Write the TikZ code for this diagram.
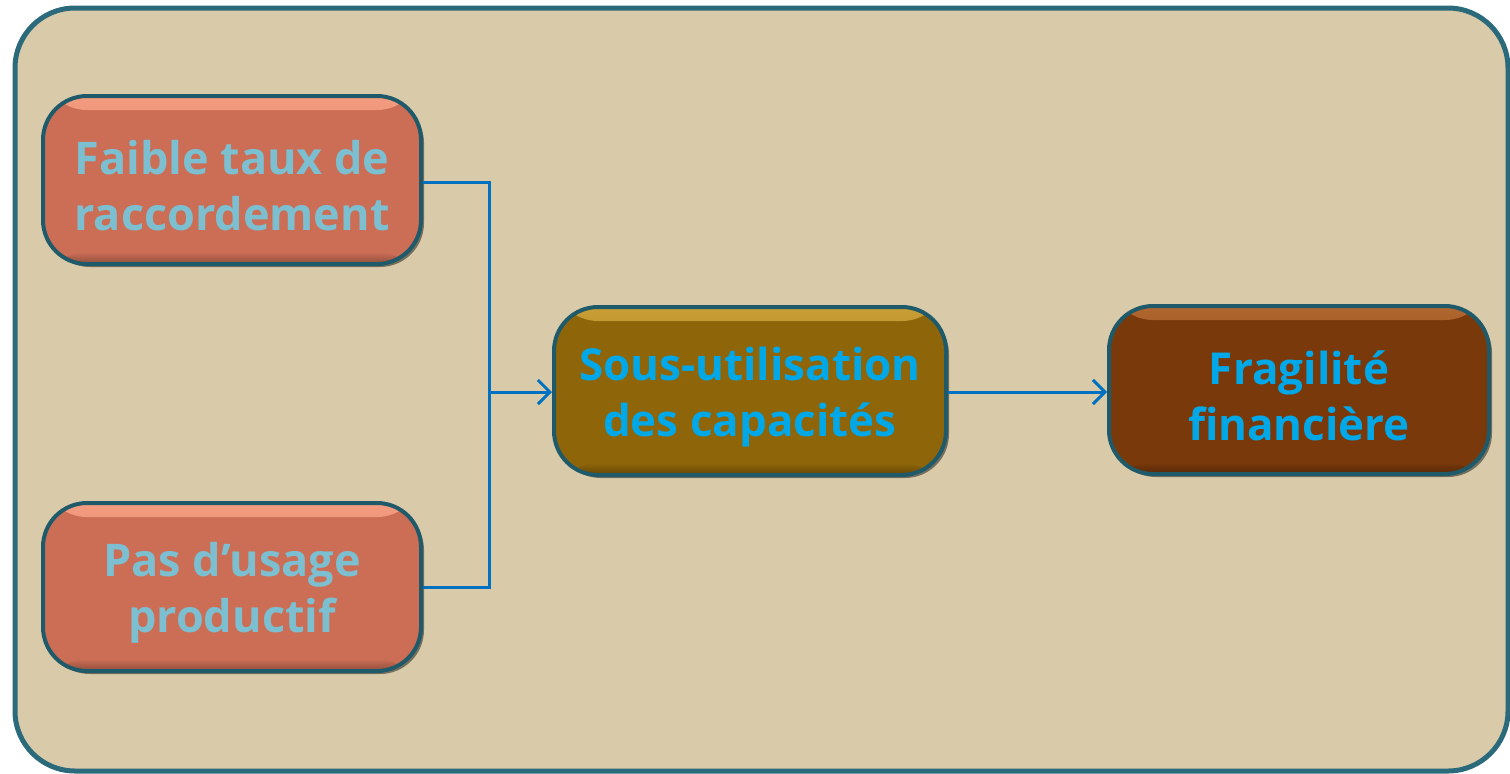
\documentclass[tikz,border=0pt]{standalone}
\usepackage{fontspec}
\setmainfont{Open Sans}
\usetikzlibrary{arrows.meta,shadows}
\definecolor{frame}{HTML}{2A6A7A}
\definecolor{bg}{HTML}{D9CBAA}
\definecolor{salmon}{HTML}{CC6E55}
\definecolor{salmonhi}{HTML}{F49C80}
\definecolor{ochre}{HTML}{8E6508}
\definecolor{ochrehi}{HTML}{C99E35}
\definecolor{brown}{HTML}{7A390B}
\definecolor{brownhi}{HTML}{B0662E}
\definecolor{edge}{HTML}{1F5A6A}
\definecolor{lightblue}{HTML}{7BBFD0}
\definecolor{brightblue}{HTML}{00A8E8}
\definecolor{link}{HTML}{0070C0}
\newcommand{\mytopstrut}{\rule{0pt}{23pt}}
\tikzset{
  box/.style={draw=edge, line width=2pt, rounded corners=22pt,
    minimum width=189pt, minimum height=84pt, align=center,
    font=\bfseries\fontsize{22.5}{28}\selectfont,
    drop shadow={shadow xshift=1.5pt, shadow yshift=-1.5pt, fill=black, opacity=0.45}},
  bevel/.style n args={2}{fill=#1, path picture={
    \shade[top color=#2, bottom color=#1]
      (path picture bounding box.north west) rectangle ([yshift=-7pt]path picture bounding box.north east);
    \shade[top color=#1, bottom color=#1!70!black]
      ([yshift=6pt]path picture bounding box.south west) rectangle (path picture bounding box.south east);}},
  causebox/.style={box, bevel={salmon}{salmonhi}, text=lightblue},
  midbox/.style={box, bevel={ochre}{ochrehi}, text=brightblue, minimum width=196pt,
    font=\bfseries\fontsize{22}{28}\selectfont},
  effbox/.style={box, bevel={brown}{brownhi}, text=brightblue, minimum width=190pt,
    font=\bfseries\fontsize{22}{28}\selectfont},
  conn/.style={draw=link, line width=1.5pt},
  arr/.style={conn, -{Straight Barb[length=6pt,width=12pt,line width=1.5pt]}},
}
\begin{document}
\begin{tikzpicture}[x=0.5pt,y=-0.5pt]
\useasboundingbox (0,0) rectangle (1510,773);
\fill[white] (0,0) rectangle (1510,773);
\draw[frame, fill=bg, line width=2.5pt, rounded corners=30pt] (15,8) rectangle (1508,771);
\node[causebox] (a) at (232,180) {\mytopstrut Faible taux de\\raccordement};
\node[causebox] (b) at (232,587) {\mytopstrut Pas d’usage\\productif};
\node[midbox] (c) at (750,391) {\mytopstrut Sous-utilisation\\des capacités};
\node[effbox] (d) at (1299,390) {\mytopstrut Fragilité\\financière};
\coordinate (j1) at (489,182);
\coordinate (j2) at (489,587);
\coordinate (jm) at (489,392);
\draw[conn] (a.east |- j1) -- (j1) -- (j2) -- (b.east |- j2);
\draw[arr] (jm) -- (c.west |- jm);
\draw[arr] (c.east |- jm) -- (d.west |- jm);
\end{tikzpicture}
\end{document}
